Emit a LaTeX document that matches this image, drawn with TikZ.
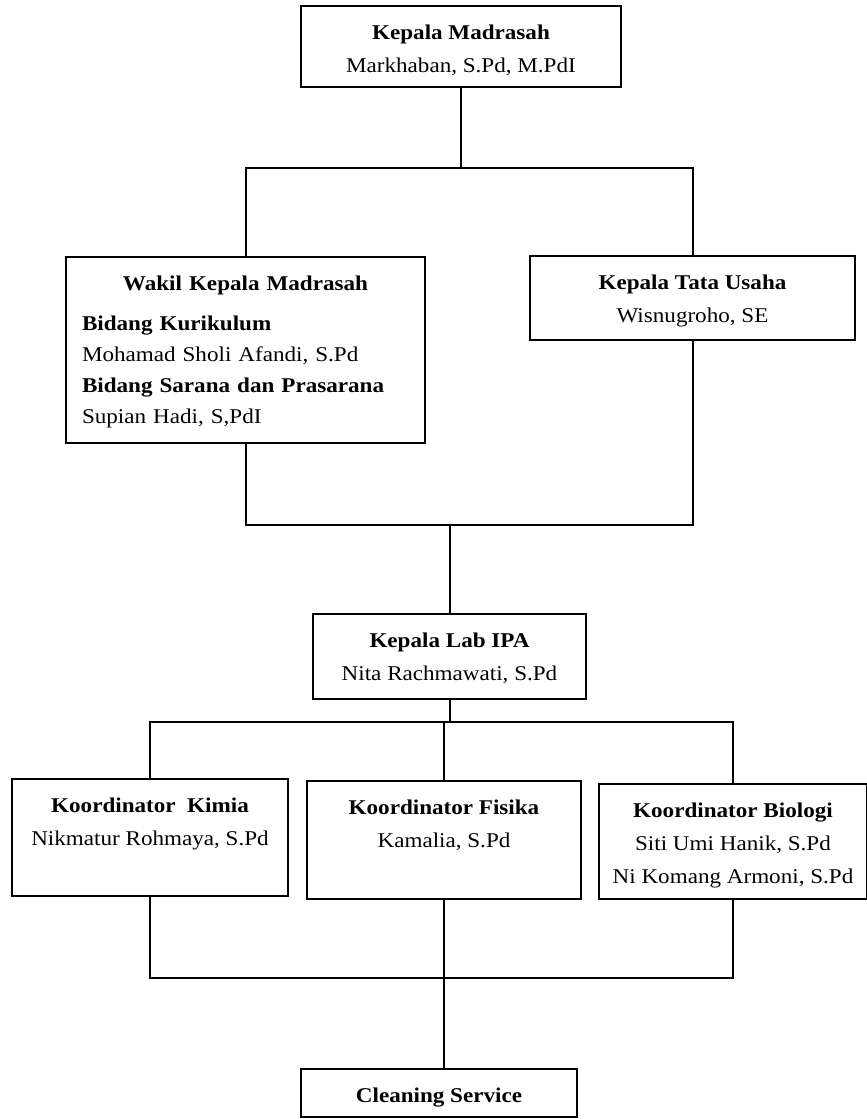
\documentclass[tikz,border=0pt]{standalone}
\usepackage{fontspec}
\setmainfont{Liberation Serif}[FakeStretch=1.1]
\usepackage{tikz}

\newcommand{\atas}{\rule{0pt}{16.5pt}}
\newcommand{\bawah}[1]{\rule[-#1]{0pt}{#1}}

\begin{document}
\begin{tikzpicture}[x=0.5pt,y=-0.5pt,
    kotak/.style={draw,line width=1pt,anchor=north west,inner xsep=3pt,inner ysep=0pt,
        align=center,font=\fontsize{10.5}{16.5}\selectfont},
    garis/.style={line width=1pt}]
            \useasboundingbox (0,0) rectangle (867,1119);

            % pimpinan
            \node[kotak,minimum width=160pt] (kamad) at (300,5)
                {\atas\textbf{Kepala Madrasah}\\Markhaban, S.Pd, M.PdI\bawah{7.5pt}};
            \node[kotak,align=left,text width=163.5pt,inner xsep=8pt,
                font=\fontsize{10.5}{15.5}\selectfont] (wakil) at (65,256)
                {\atas\makebox[163.5pt]{\bfseries Wakil Kepala Madrasah}\\[4.5pt]
                 \textbf{Bidang Kurikulum}\\Mohamad Sholi Afandi, S.Pd\\
                 \textbf{Bidang Sarana dan Prasarana}\\Supian Hadi, S,PdI\bawah{10pt}};
            \node[kotak,minimum width=162.5pt] (tu) at (529,255)
                {\atas\textbf{Kepala Tata Usaha}\\Wisnugroho, SE\bawah{9pt}};

            % laboratorium
            \node[kotak,minimum width=136.5pt] (lab) at (312,613)
                {\atas\textbf{Kepala Lab IPA}\\Nita Rachmawati, S.Pd\bawah{9.5pt}};
            \node[kotak,minimum width=138pt] (kimia) at (11,778)
                {\atas\textbf{Koordinator\ \ Kimia}\\Nikmatur Rohmaya, S.Pd\bawah{25.5pt}};
            \node[kotak,minimum width=137pt] (fisika) at (306,780)
                {\atas\textbf{Koordinator Fisika}\\Kamalia, S.Pd\bawah{26pt}};
            \node[kotak,minimum width=134pt] (bio) at (598,783)
                {\atas\textbf{Koordinator Biologi}\\Siti Umi Hanik, S.Pd\\Ni Komang Armoni, S.Pd\bawah{8pt}};
            \node[kotak,minimum width=138pt] (cs) at (300,1068)
                {\atas\textbf{Cleaning Service}\bawah{7.5pt}};

            % garis penghubung
            \coordinate (c1) at (0,168);
            \coordinate (c2) at (0,525);
            \coordinate (c3) at (0,722);
            \coordinate (c4) at (0,978);

            \draw[garis] (kamad.south) -- (kamad.south |- c1);
            \draw[garis] (wakil.north) |- (tu.north |- c1) -- (tu.north);

            \draw[garis] (wakil.south) |- (tu.south |- c2) -- (tu.south);
            \draw[garis] (lab.north) -- (lab.north |- c2);

            \draw[garis] (lab.south) -- (lab.south |- c3);
            \draw[garis] (kimia.north) |- (bio.north |- c3) -- (bio.north);
            \draw[garis] (fisika.north) -- (fisika.north |- c3);

            \draw[garis] (kimia.south) |- (bio.south |- c4) -- (bio.south);
            \draw[garis] (fisika.south) -- (fisika.south |- cs.north);
\end{tikzpicture}
\end{document}
